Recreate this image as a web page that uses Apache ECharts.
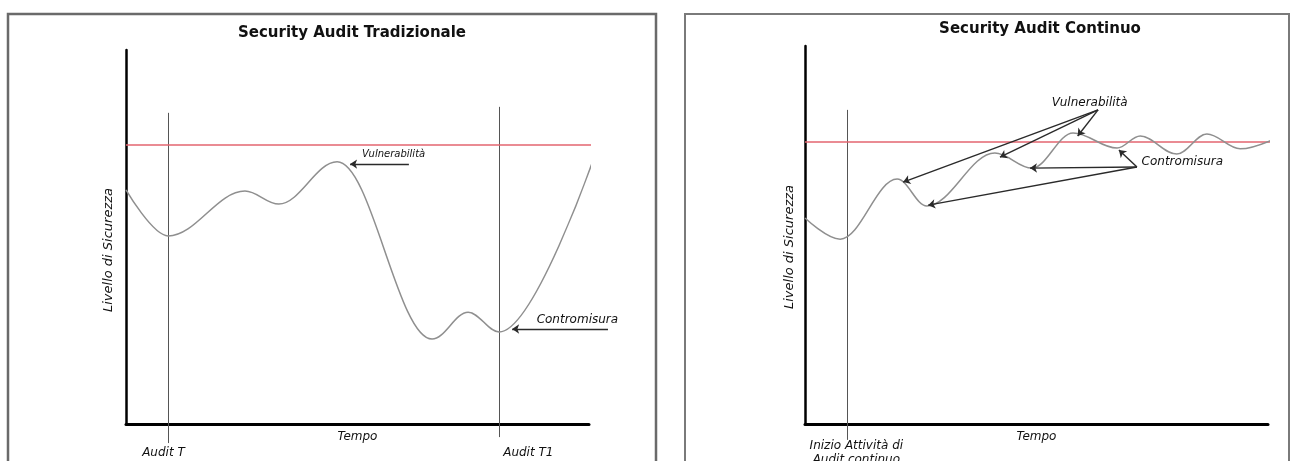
<!DOCTYPE html>
<html>
<head>
<meta charset="utf-8">
<script src="https://cdn.jsdelivr.net/npm/echarts@6/dist/echarts.min.js"></script>
<style>html,body{margin:0;padding:0;background:#fff}#c{width:1300px;height:461px}</style>
</head>
<body>
<div id="c"></div>
<script>
// ---- Data (time 0..100, security level 0..100) ----
const titles = ['Security Audit Tradizionale', 'Security Audit Continuo'];
const securityTarget = 74.6;
const targetLabel = 'Security Target';
const axisXName = 'Tempo';
const axisYName = 'Livello di Sicurezza';

// Traditional audit curve (turning points)
const tradTime  = [0, 9.1, 25.7, 33.0, 45.6, 66.1, 73.9, 80.6, 100.9];
const tradLevel = [62.6, 50.3, 62.3, 58.8, 70.1, 22.7, 29.9, 24.6, 70.6];

// Continuous audit curve (turning points)
const contTime  = [0, 7.6, 19.9, 26.3, 41.0, 49.0, 57.9, 67.4, 72.4, 80.3, 86.8, 94.0, 104.1];
const contLevel = [54.5, 48.9, 64.8, 57.7, 71.7, 67.7, 77.0, 73.0, 76.2, 71.4, 76.7, 72.8, 77.0];

const targetEnd = [102.4, 102.6];

// Audit markers: [time, bottom level, top level]
const tradAudits = [[9.1, -5.1, 83.2], [80.6, -3.5, 84.8]];
const tradAuditLabels = ['Audit T', 'Audit T1'];
const tradAuditLabelPos = [[8.2, -7.8], [87.0, -7.8]];
const contAudits = [[9.1, -4.2, 83.1]];
const contAuditLabels = ['Inizio Attività di\nAudit continuo'];
const contAuditLabelPos = [[11.2, -7.9]];

// Annotations
const vulnText = 'Vulnerabilità';
const counterText = 'Contromisura';
const tradVulnArrows = [[[61.1, 69.5], [48.4, 69.5]]];
const tradCounterArrows = [[[104.1, 25.4], [83.4, 25.4]]];
const tradVulnLabelPos = [57.9, 71.9];
const tradCounterLabelPos = [97.6, 27.8];
const contVulnArrows = [[[63.3, 83.1], [21.2, 64.0]], [[63.3, 83.1], [42.1, 70.6]], [[63.3, 83.1], [58.9, 76.2]]];
const contCounterArrows = [[[71.7, 68.0], [26.6, 57.9]], [[71.7, 68.0], [48.6, 67.7]], [[71.7, 68.0], [67.8, 72.5]]];
const contVulnLabelPos = [61.6, 84.7];
const contCounterLabelPos = [81.6, 69.3];

// ---- Build options ----
const FONT = 'DejaVu Sans';
const textCol = '#111';
function zip(a, b) { return a.map((v, i) => [v, b[i]]); }

function axes(gi, yGap) {
  const x = {
    gridIndex: gi, type: 'value', min: 0, max: 100,
    axisLine: { show: true, lineStyle: { color: '#000', width: 3 } },
    axisTick: { show: false }, axisLabel: { show: false }, splitLine: { show: false },
    name: axisXName, nameLocation: 'middle', nameGap: 7,
    nameTextStyle: { fontFamily: FONT, fontStyle: 'italic', fontSize: 12, color: textCol }
  };
  const y = {
    gridIndex: gi, type: 'value', min: 0, max: 100,
    axisLine: { show: true, lineStyle: { color: '#000', width: 2.5 } },
    axisTick: { show: false }, axisLabel: { show: false }, splitLine: { show: false },
    name: axisYName, nameLocation: 'middle', nameGap: yGap[0],
    nameTextStyle: { fontFamily: FONT, fontStyle: 'italic', fontSize: 13, color: textCol, padding: [0, yGap[1], 0, 0] }
  };
  return [x, y];
}
const a0 = axes(0, [11, 26]);
const a1 = axes(1, [9, 24]);

function curve(gi, t, l) {
  return { type: 'line', xAxisIndex: gi, yAxisIndex: gi, data: zip(t, l), smooth: 0.36, smoothMonotone: 'x',
    symbol: 'none', clip: false, lineStyle: { color: '#8f8f8f', width: 1.5 }, z: 3, silent: true };
}
function target(gi, end) {
  return { type: 'line', xAxisIndex: gi, yAxisIndex: gi, symbol: 'none', clip: false, z: 2,
    lineStyle: { color: '#e3656f', width: 1.5 },
    data: [
      { value: [0, securityTarget], label: { show: true, position: 'left', distance: 8, formatter: targetLabel,
        fontFamily: FONT, fontStyle: 'italic', fontSize: 13, color: textCol } },
      [end, securityTarget]
    ] };
}
function vlines(gi, audits) {
  return { type: 'lines', coordinateSystem: 'cartesian2d', xAxisIndex: gi, yAxisIndex: gi, clip: false, z: 1,
    symbol: 'none', lineStyle: { color: '#555', width: 1, opacity: 1 },
    data: audits.map(a => ({ coords: [[a[0], a[1]], [a[0], a[2]]] })) };
}
function arrows(gi, list) {
  return { type: 'lines', coordinateSystem: 'cartesian2d', xAxisIndex: gi, yAxisIndex: gi, clip: false, z: 4,
    symbol: ['none', 'arrow'], symbolSize: 7, lineStyle: { color: '#2a2a2a', width: 1.4, opacity: 1 },
    data: list.map(p => ({ coords: p })) };
}
function texts(gi, items) {
  return { type: 'scatter', xAxisIndex: gi, yAxisIndex: gi, clip: false, symbolSize: 1, z: 5, silent: true,
    itemStyle: { color: 'rgba(255,255,255,0)', opacity: 1 },
    data: items.map(it => ({ value: it.pos, label: { show: true, position: [0, 0], align: 'center', verticalAlign: 'middle',
      formatter: it.text, fontFamily: FONT, fontStyle: 'italic', fontSize: it.size, color: textCol,
      textBorderWidth: 0, lineHeight: 14 } })) };
}

const option = {
  backgroundColor: '#fff',
  animation: false,
  graphic: [
    { type: 'rect', shape: { x: 8, y: 14, width: 648, height: 470 }, style: { fill: 'none', stroke: '#6a6a6a', lineWidth: 2.5 } },
    { type: 'rect', shape: { x: 685, y: 14, width: 604, height: 470 }, style: { fill: 'none', stroke: '#7a7a7a', lineWidth: 2 } }
  ],
  title: [
    { text: titles[0], left: 347, top: 21, textAlign: 'center', textStyle: { fontFamily: FONT, fontWeight: 'bold', fontSize: 15, color: '#111' } },
    { text: titles[1], left: 1035, top: 17, textAlign: 'center', textStyle: { fontFamily: FONT, fontWeight: 'bold', fontSize: 15, color: '#111' } }
  ],
  grid: [
    { left: 126, top: 50, width: 463, height: 374 },
    { left: 805, top: 46, width: 463, height: 378 }
  ],
  xAxis: [a0[0], a1[0]],
  yAxis: [a0[1], a1[1]],
  series: [
    target(0, targetEnd[0]),
    target(1, targetEnd[1]),
    curve(0, tradTime, tradLevel),
    curve(1, contTime, contLevel),
    vlines(0, tradAudits),
    vlines(1, contAudits),
    arrows(0, tradVulnArrows.concat(tradCounterArrows)),
    arrows(1, contVulnArrows.concat(contCounterArrows)),
    texts(0, [
      { pos: tradAuditLabelPos[0], text: tradAuditLabels[0], size: 12 },
      { pos: tradAuditLabelPos[1], text: tradAuditLabels[1], size: 12 },
      { pos: tradVulnLabelPos, text: vulnText, size: 10 },
      { pos: tradCounterLabelPos, text: counterText, size: 12 }
    ]),
    texts(1, [
      { pos: contAuditLabelPos[0], text: contAuditLabels[0], size: 12 },
      { pos: contVulnLabelPos, text: vulnText, size: 12 },
      { pos: contCounterLabelPos, text: counterText, size: 12 }
    ])
  ]
};
const chart = echarts.init(document.getElementById('c'), null, { renderer: 'canvas' });
chart.setOption(option);
</script>
</body>
</html>
